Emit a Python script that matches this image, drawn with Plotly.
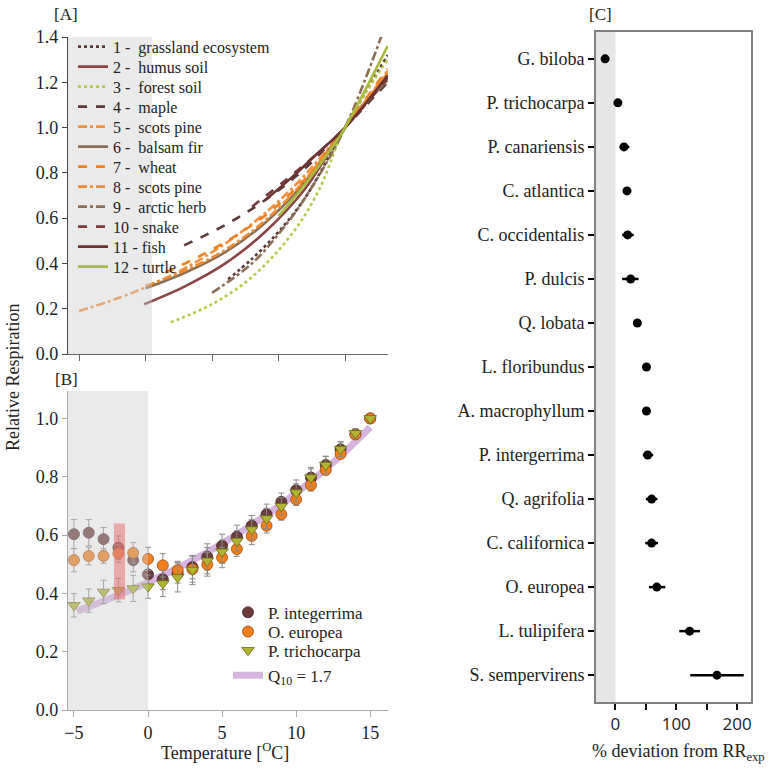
import plotly.graph_objects as go

W, H = 769, 770
SERIF = "Liberation Serif"
TXT = "#222222"

# ---------------- Panel A data ----------------
a_names = ["1 -  grassland ecosystem", "2 -  humus soil", "3 -  forest soil", "4 -  maple",
           "5 -  scots pine", "6 -  balsam fir", "7 -  wheat", "8 -  scots pine",
           "9 -  arctic herb", "10 - snake", "11 - fish", "12 - turtle"]
a_x = [
    [6.2, 8, 10, 12, 15, 18.2],
    [-0.1, 3, 6, 9, 12, 15, 18.2],
    [1.9, 5, 8, 11, 13, 15, 18.2],
    [2.9, 6, 9, 12, 15, 18.2],
    [-5, -1, 3, 7, 11, 15, 18.2],
    [0, 3, 6, 9, 12, 15, 18.2],
    [1.5, 4, 7, 10, 13, 15, 18.2],
    [0, 3, 6, 9, 12, 15, 18.2],
    [5, 8, 10, 12, 15, 18.2],
    [8, 11, 13, 15, 18.2],
    [9, 11, 13, 15, 18.2],
    [10, 12, 14, 15, 18.2],
]
a_y = [
    [0.33, 0.42, 0.54, 0.69, 1.0, 1.32],
    [0.22, 0.30, 0.40, 0.54, 0.73, 1.0, 1.23],
    [0.14, 0.22, 0.34, 0.53, 0.72, 1.0, 1.30],
    [0.48, 0.57, 0.68, 0.82, 1.0, 1.20],
    [0.19, 0.27, 0.38, 0.53, 0.73, 1.0, 1.25],
    [0.29, 0.36, 0.45, 0.58, 0.76, 1.0, 1.21],
    [0.36, 0.43, 0.53, 0.66, 0.84, 1.0, 1.26],
    [0.30, 0.37, 0.46, 0.59, 0.77, 1.0, 1.24],
    [0.27, 0.40, 0.53, 0.69, 1.0, 1.48],
    [0.65, 0.79, 0.89, 1.0, 1.22],
    [0.68, 0.78, 0.89, 1.0, 1.23],
    [0.61, 0.75, 0.91, 1.0, 1.36],
]
a_colors = ["#5a3838", "#8b4545", "#b8c84a", "#5c3838", "#f39040", "#8b6e55",
            "#f08020", "#f08a30", "#8b6e55", "#7a3a3a", "#6e3232", "#a8bb3c"]
a_dash = ["dot", "solid", "dot", "dash", "dashdot", "solid", "dash", "dashdot",
          "dashdot", "dash", "solid", "solid"]

# ---------------- Panel B data ----------------
b_temp = list(range(-5, 16))
b_pint = [0.603, 0.608, 0.586, 0.557, 0.514, 0.465, 0.448, 0.47, 0.49, 0.525, 0.563,
          0.594, 0.632, 0.671, 0.714, 0.754, 0.797, 0.84, 0.894, 0.946, 1.0]
b_pint_err = [0.05, 0.045, 0.04, 0.04, 0.04, 0.04, 0.035, 0.035, 0.04, 0.045, 0.04,
              0.04, 0.035, 0.035, 0.03, 0.035, 0.035, 0.03, 0.025, 0.015, 0.005]
b_oeur = [0.514, 0.528, 0.528, 0.537, 0.539, 0.518, 0.496, 0.48, 0.483, 0.499, 0.523,
          0.552, 0.597, 0.632, 0.671, 0.722, 0.771, 0.823, 0.878, 0.945, 1.0]
b_oeur_err = [0.04, 0.03, 0.025, 0.03, 0.035, 0.04, 0.04, 0.03, 0.045, 0.04, 0.035,
              0.025, 0.03, 0.025, 0.02, 0.02, 0.02, 0.015, 0.01, 0.01, 0.005]
b_ptri = [0.359, 0.375, 0.405, 0.411, 0.417, 0.423, 0.434, 0.455, 0.48, 0.512, 0.543,
          0.58, 0.619, 0.657, 0.699, 0.746, 0.797, 0.84, 0.895, 0.949, 1.0]
b_ptri_err = [0.04, 0.04, 0.04, 0.04, 0.045, 0.04, 0.045, 0.05, 0.05, 0.045, 0.04,
              0.035, 0.035, 0.035, 0.03, 0.03, 0.03, 0.03, 0.025, 0.015, 0.005]
q10_t = [-4.8, -4, -2, 0, 2, 4, 6, 8, 10, 12, 13, 15]
q10_y = [0.339, 0.354, 0.394, 0.438, 0.487, 0.541, 0.602, 0.669, 0.744, 0.827, 0.872, 0.97]

# ---------------- Panel C data ----------------
c_species = ["G. biloba", "P. trichocarpa", "P. canariensis", "C. atlantica",
             "C. occidentalis", "P. dulcis", "Q. lobata", "L. floribundus",
             "A. macrophyllum", "P. intergerrima", "Q. agrifolia", "C. californica",
             "O. europea", "L. tulipifera", "S. sempervirens"]
c_dev = [-17, 4, 14, 19, 20, 25, 36, 51, 51, 53, 59.5, 59.5, 68, 122, 167]
c_lo = [-19, 2, 7, 17, 11, 11, 34, 49, 49, 45, 50, 49, 55, 105, 123]
c_hi = [-15, 6, 23, 21, 30, 38, 38, 53, 53, 62, 69, 70, 82, 139, 211]


def px_x(p):
    return p / W


def px_y(p):
    return 1 - p / H


fig = go.Figure()
legends = {}

# Panel A traces, one legend row each so rows sit where the reference has them
for i in range(len(a_names)):
    key = "legend" if i == 0 else "legend%d" % (i + 1)
    fig.add_trace(go.Scatter(
        x=a_x[i], y=a_y[i], mode="lines", name=a_names[i],
        line=dict(color=a_colors[i], dash=a_dash[i], width=2.6, shape="spline"),
        xaxis="x", yaxis="y", legend=key))
    legends[key] = dict(x=px_x(73), y=px_y(46.7 + 20.0 * i), xanchor="left", yanchor="middle",
                        bgcolor="rgba(0,0,0,0)", borderwidth=0,
                        font=dict(family=SERIF, size=16, color=TXT), itemwidth=30)

# Panel B traces
errc = "#8a8a8a"
b_rows = [612.7, 632.0, 650.7, 675.7]
fig.add_trace(go.Scatter(
    x=q10_t, y=q10_y, mode="lines", name="Q<sub>10</sub> = 1.7",
    line=dict(color="rgba(205,160,215,0.8)", width=7, shape="spline"),
    xaxis="x2", yaxis="y2", legend="legend16"))
fig.add_trace(go.Scatter(
    x=b_temp, y=b_pint, mode="markers", name="P. integerrima",
    marker=dict(symbol="circle", size=11, color="#6e3c3c", line=dict(color="#3e2424", width=0.8)),
    error_y=dict(type="data", array=b_pint_err, color=errc, thickness=1, width=3),
    xaxis="x2", yaxis="y2", legend="legend13"))
fig.add_trace(go.Scatter(
    x=b_temp, y=b_oeur, mode="markers", name="O. europea",
    marker=dict(symbol="circle", size=11, color="#f27f1b", line=dict(color="#9a4a14", width=0.8)),
    error_y=dict(type="data", array=b_oeur_err, color=errc, thickness=1, width=3),
    xaxis="x2", yaxis="y2", legend="legend14"))
fig.add_trace(go.Scatter(
    x=b_temp, y=b_ptri, mode="markers", name="P. trichocarpa",
    marker=dict(symbol="triangle-down", size=11, color="#b0b430", line=dict(color="#6a6a20", width=0.8)),
    error_y=dict(type="data", array=b_ptri_err, color=errc, thickness=1, width=3),
    xaxis="x2", yaxis="y2", legend="legend15"))
for j, key in enumerate(["legend13", "legend14", "legend15", "legend16"]):
    legends[key] = dict(x=px_x(228), y=px_y(b_rows[j]), xanchor="left", yanchor="middle",
                        bgcolor="rgba(0,0,0,0)", borderwidth=0,
                        font=dict(family=SERIF, size=17, color=TXT), itemwidth=30)

# Panel C trace
c_idx = list(range(len(c_species)))
fig.add_trace(go.Scatter(
    x=c_dev, y=c_idx, mode="markers", showlegend=False,
    marker=dict(symbol="circle", size=9, color="black"),
    error_x=dict(type="data", symmetric=False,
                 array=[h - d for h, d in zip(c_hi, c_dev)],
                 arrayminus=[d - l for d, l in zip(c_dev, c_lo)],
                 color="black", thickness=2.5, width=0),
    xaxis="x3", yaxis="y3"))

tickfont = dict(family=SERIF, size=18, color=TXT)


def ann(text, x, y, size=17, angle=0):
    return dict(text=text, x=px_x(x), y=px_y(y), xref="paper", yref="paper",
                xanchor="center", yanchor="middle", showarrow=False, textangle=angle,
                font=dict(family=SERIF, size=size, color=TXT))


fig.update_layout(
    width=W, height=H, margin=dict(l=0, r=0, t=0, b=0, autoexpand=False),
    paper_bgcolor="white", plot_bgcolor="white",
    showlegend=True,
    xaxis=dict(domain=[px_x(68), px_x(388)], range=[-5.83, 18.23], anchor="y",
               automargin=False,
               showline=True, linecolor="#666666", linewidth=1.2,
               ticks="outside", ticklen=6, tickcolor="#666666",
               tickvals=[-5, 0, 5, 10, 15], showticklabels=False,
               showgrid=False, zeroline=False),
    yaxis=dict(domain=[px_y(354), px_y(37)], range=[0, 1.4], anchor="x",
               automargin=False,
               showline=True, linecolor="#444444", linewidth=1.2,
               ticks="outside", ticklen=5, tickcolor="#444444",
               tickvals=[0, 0.2, 0.4, 0.6, 0.8, 1.0, 1.2, 1.4],
               ticktext=["0.0", "0.2", "0.4", "0.6", "0.8", "1.0", "1.2", "1.4"],
               tickfont=tickfont, showgrid=False, zeroline=False),
    xaxis2=dict(domain=[px_x(68), px_x(388)], range=[-5.4, 16.2], anchor="y2",
                automargin=False,
                showline=True, linecolor="#aaaaaa", linewidth=1.2,
                ticks="outside", ticklen=6, tickcolor="#aaaaaa",
                tickvals=[-5, 0, 5, 10, 15], tickfont=tickfont,
                showgrid=False, zeroline=False),
    yaxis2=dict(domain=[px_y(710), px_y(391)], range=[0, 1.094], anchor="x2",
                automargin=False,
                showline=True, linecolor="#aaaaaa", linewidth=1.2,
                ticks="outside", ticklen=5, tickcolor="#aaaaaa",
                tickvals=[0, 0.2, 0.4, 0.6, 0.8, 1.0],
                ticktext=["0.0", "0.2", "0.4", "0.6", "0.8", "1.0"],
                tickfont=tickfont, showgrid=False, zeroline=False),
    xaxis3=dict(domain=[px_x(596), px_x(751)], range=[-32, 223], anchor="y3",
                automargin=False,
                showline=True, mirror=True, linecolor="#808080", linewidth=2,
                ticks="outside", ticklen=6, tickwidth=2, tickcolor="black",
                tick0=0, dtick=100,
                minor=dict(dtick=50, ticks="outside", ticklen=6, tickwidth=2, tickcolor="black"),
                tickfont=dict(family="Open Sans", size=17, color=TXT),
                showgrid=False, zeroline=False),
    yaxis3=dict(domain=[px_y(702), px_y(32)], range=[14.61, -0.61], anchor="x3",
                automargin=False,
                showline=True, mirror=True, linecolor="#808080", linewidth=2,
                ticks="outside", ticklen=6, tickwidth=2, tickcolor="black",
                tickvals=c_idx, ticktext=c_species,
                tickfont=dict(family=SERIF, size=18, color=TXT),
                showgrid=False, zeroline=False),
    shapes=[
        dict(type="rect", xref="x", yref="y", x0=-5.83, x1=0.48, y0=0, y1=1.4,
             fillcolor="rgba(205,205,205,0.42)", line=dict(width=0), layer="above"),
        dict(type="rect", xref="x2", yref="y2", x0=-5.4, x1=0, y0=0, y1=1.094,
             fillcolor="rgba(205,205,205,0.42)", line=dict(width=0), layer="above"),
        dict(type="rect", xref="x2", yref="y2", x0=-2.3, x1=-1.55, y0=0.379, y1=0.64,
             fillcolor="rgba(235,90,90,0.45)", line=dict(width=0), layer="above"),
        dict(type="rect", xref="x3", yref="y3", x0=-32, x1=0, y0=14.61, y1=-0.61,
             fillcolor="#e6e6e6", line=dict(width=0), layer="below"),
    ],
    annotations=[
        ann("[A]", 66, 15),
        ann("[B]", 66, 380),
        ann("[C]", 600, 15),
        ann("Relative Respiration", 13, 378, size=18, angle=-90),
        ann("Temperature [<sup>O</sup>C]", 225, 751, size=18),
        ann("% deviation from RR<sub>exp</sub>", 678, 752, size=18),
    ],
)
fig.update_layout(**legends)

fig.write_html("out.html", config={"displayModeBar": False},
               post_script="document.body.style.margin='0px';")
